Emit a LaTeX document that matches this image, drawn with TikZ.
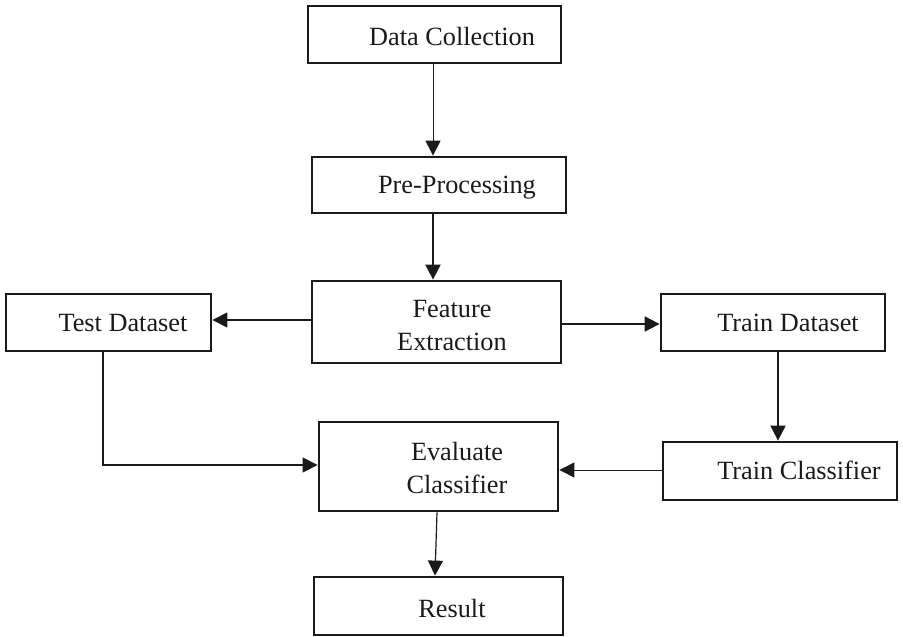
\documentclass[tikz,border=0pt]{standalone}
\usepackage{fontspec}
\setmainfont{Liberation Serif}
\usetikzlibrary{arrows.meta,calc}
\definecolor{ink}{HTML}{1A1A1A}
\tikzset{
  box/.style={draw=ink, line width=2.8pt, inner sep=0pt},
  txt/.style={text=ink, font=\fontsize{26.3}{33}\selectfont, align=center, inner sep=0pt},
  arr/.style={draw=ink, line width=1.3pt, -{Triangle[length=15pt,width=15pt]}},
  thick arr/.style={arr, line width=2pt}
}
\begin{document}
\begin{tikzpicture}[x=1pt,y=-1pt]
\useasboundingbox (0,0) rectangle (903,637);
% boxes
\node[box, minimum width=253pt, minimum height=57pt] (dc)  at (434.5,34.5) {};
\node[box, minimum width=254pt, minimum height=56pt] (pp)  at (439,185) {};
\node[box, minimum width=249pt, minimum height=82pt] (fe)  at (436.5,322) {};
\node[box, minimum width=205pt, minimum height=57pt] (td)  at (108.5,322.5) {};
\node[box, minimum width=224pt, minimum height=57pt] (trd) at (773,322.5) {};
\node[box, minimum width=239pt, minimum height=89pt] (ev)  at (438.5,466.5) {};
\node[box, minimum width=234pt, minimum height=58pt] (tc)  at (780,471) {};
\node[box, minimum width=249pt, minimum height=58pt] (res) at (438.5,606) {};
% texts
\node[txt] (tdc)  at (452,37)    {Data Collection};
\node[txt] (tpp)  at (457,188)   {Pre-Processing};
\node[txt] (tfe)  at (452,326)   {Feature\\Extraction};
\node[txt] (ttd)  at (123,323)   {Test Dataset};
\node[txt] (ttrd) at (788,323)   {Train Dataset};
\node[txt] (tev)  at (457,468)   {Evaluate\\Classifier};
\node[txt] (ttc)  at (799,470)   {Train Classifier};
\node[txt] (tres) at (452,608)   {Result};
% connectors
\draw[arr, line width=1pt] ($(dc.south)+(-1.5,0)$) -- ($(dc.south |- pp.north)+(-1.5,0)$);
\draw[thick arr] ($(pp.south)+(-6,0)$) -- ($(pp.south |- fe.north)+(-6,0)$);
\draw[arr, line width=1.2pt] ($(fe.west)+(0,-2)$) -- ($(fe.west -| td.east)+(0,-2)$);
\draw[thick arr] ($(fe.east)+(0,2)$) -- ($(fe.east -| trd.west)+(0,2)$);
\draw[arr] ($(td.south)+(-5.5,0)$) |- ($(ev.west)+(0,-1.5)$);
\draw[thick arr] ($(trd.south)+(5,0)$) -- ($(trd.south |- tc.north)+(5,0)$);
\draw[arr, line width=1pt] ($(tc.west)+(0,-1)$) -- ($(tc.west -| ev.east)+(0,-1)$);
\draw[arr, line width=1.2pt] ($(ev.south)+(-1.5,0)$) -- ($(ev.south |- res.north)+(-3.5,0)$);
\end{tikzpicture}
\end{document}
